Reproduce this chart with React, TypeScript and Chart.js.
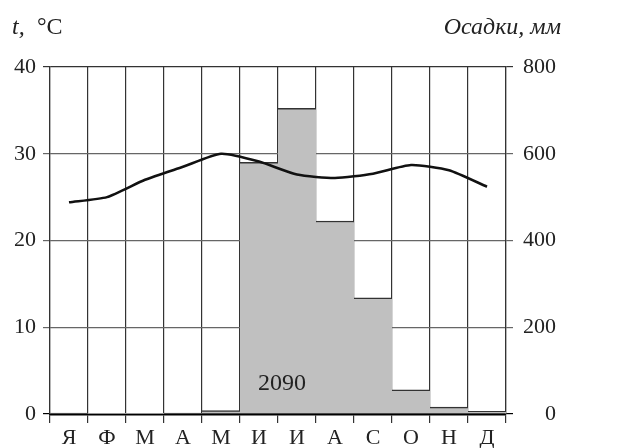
import React, { useEffect, useRef } from "react";
import { Chart, registerables } from "chart.js";

Chart.register(...registerables);

const months = ["Я", "Ф", "М", "А", "М", "И", "И", "А", "С", "О", "Н", "Д"];
const temperature = [24.4, 25.0, 27.0, 28.5, 30.0, 29.1, 27.6, 27.2, 27.7, 28.7, 28.1, 26.2];
const precipitation = [2, 1, 1, 2, 8, 580, 705, 445, 268, 56, 16, 6];
const tempTicks = [0, 10, 20, 30, 40];
const precipTicks = [0, 200, 400, 600, 800];
const annualTotal = "2090";
const leftTitleVar = "t,";
const leftTitleUnit = "°C";
const rightTitle = "Осадки, мм";

const SERIF = '"Liberation Serif", "Times New Roman", serif';

const textPlugin = {
  id: "extraTexts",
  afterDraw(chart: any) {
    const ctx = chart.ctx;
    const area = chart.chartArea;
    const xs = chart.scales.x;
    ctx.save();
    ctx.fillStyle = "#222";
    ctx.textBaseline = "alphabetic";
    ctx.textAlign = "left";
    ctx.font = `italic 24px ${SERIF}`;
    ctx.fillText(leftTitleVar, 12, 34);
    ctx.font = `24px ${SERIF}`;
    ctx.fillText(leftTitleUnit, 37, 34);
    ctx.font = `italic 24px ${SERIF}`;
    ctx.textAlign = "right";
    ctx.fillText(rightTitle, 561, 34);

    const cx = (xs.getPixelForValue(5) + xs.getPixelForValue(6)) / 2 + 4;
    const cy = area.bottom - 31;
    ctx.font = `24px ${SERIF}`;
    const w = ctx.measureText(annualTotal).width;
    ctx.fillStyle = "#c0c0c0";
    ctx.fillRect(cx - w / 2 - 1, cy - 13, w + 2, 28);
    ctx.fillStyle = "#222";
    ctx.textAlign = "center";
    ctx.textBaseline = "middle";
    ctx.fillText(annualTotal, cx, cy + 1);
    ctx.restore();
  },
};

export default function App() {
  const ref = useRef<HTMLCanvasElement | null>(null);

  useEffect(() => {
    if (!ref.current) return;
    const chart = new Chart(ref.current, {
      type: "bar",
      data: {
        labels: months,
        datasets: [
          {
            type: "line",
            label: "t",
            data: temperature,
            yAxisID: "y",
            borderColor: "#111",
            borderWidth: 2.6,
            pointRadius: 0,
            tension: 0.2,
            order: 0,
          } as any,
          {
            type: "bar",
            label: "Осадки",
            data: precipitation,
            yAxisID: "y2",
            backgroundColor: "#c0c0c0",
            borderColor: "#333",
            borderWidth: { top: 1.5, left: 0, right: 0, bottom: 0 },
            borderSkipped: false,
            barPercentage: 1,
            categoryPercentage: 1,
            order: 1,
          } as any,
        ],
      },
      options: {
        responsive: false,
        animation: false,
        devicePixelRatio: 1,
        layout: { padding: { left: 0, right: 62, top: 67, bottom: 0 } },
        plugins: {
          legend: { display: false },
          tooltip: { enabled: false },
          title: { display: false },
        },
        scales: {
          x: {
            z: 1,
            offset: true,
            afterFit: (s: any) => {
              s.height = 34;
            },
            grid: {
              offset: true,
              color: "#333",
              lineWidth: 1.2,
              drawTicks: true,
              tickLength: 9,
              tickColor: "#333",
            },
            border: { display: true, color: "#000", width: 2.5 },
            ticks: {
              color: "#222",
              font: { family: SERIF, size: 22 },
              padding: 2,
              maxRotation: 0,
              autoSkip: false,
            },
          },
          y: {
            z: 1,
            position: "left",
            min: 0,
            max: 40,
            afterBuildTicks: (s: any) => {
              s.ticks = tempTicks.map((v) => ({ value: v }));
            },
            afterFit: (s: any) => {
              s.width = 50;
            },
            grid: {
              color: (c: any) =>
                c.tick && c.tick.value === 0 ? "rgba(0,0,0,0)" : c.tick && c.tick.value === 40 ? "#333" : "#666",
              lineWidth: 1.2,
              drawTicks: true,
              tickLength: 7,
              tickColor: (c: any) => (c.tick && c.tick.value === 40 ? "#333" : c.tick && c.tick.value === 0 ? "#000" : "#666"),
            },
            border: { display: true, color: "#333", width: 1.2 },
            ticks: {
              color: "#222",
              font: { family: SERIF, size: 22 },
              padding: 7,
            },
          },
          y2: {
            z: 1,
            position: "right",
            min: 0,
            max: 800,
            afterBuildTicks: (s: any) => {
              s.ticks = precipTicks.map((v) => ({ value: v }));
            },
            afterFit: (s: any) => {
              s.width = 50;
            },
            grid: {
              drawOnChartArea: false,
              drawTicks: true,
              tickLength: 7,
              tickColor: (c: any) => (c.tick && c.tick.value === 0 ? "#000" : c.tick && c.tick.value === 800 ? "#333" : "#666"),
              lineWidth: 1.2,
            },
            border: { display: true, color: "#333", width: 1.2 },
            ticks: {
              color: "#222",
              font: { family: SERIF, size: 22 },
              crossAlign: "far",
              padding: 7,
            },
          },
        },
      } as any,
      plugins: [textPlugin],
    });
    return () => chart.destroy();
  }, []);

  return (
    <div style={{ position: "fixed", left: 0, top: 0, width: 618, height: 448, background: "#fff" }}>
      <canvas ref={ref} width={618} height={448} style={{ display: "block" }} />
    </div>
  );
}
